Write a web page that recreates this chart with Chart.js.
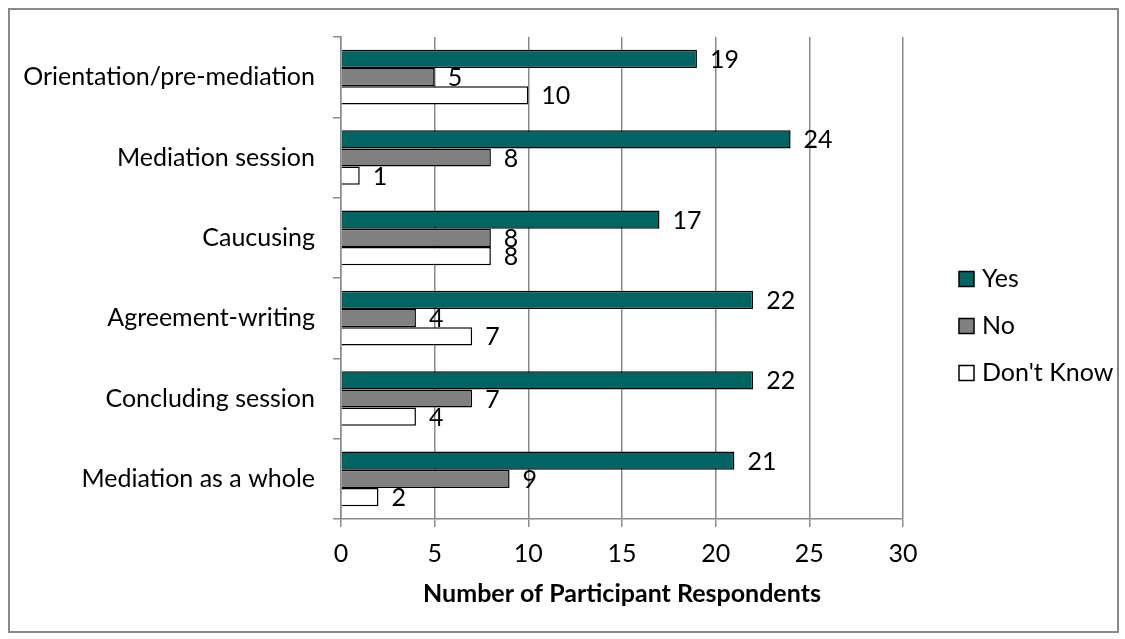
<!DOCTYPE html>
<html>
<head>
<meta charset="utf-8">
<script src="https://cdn.jsdelivr.net/npm/chart.js@4/dist/chart.umd.min.js"></script>
<style>
  body { margin: 0; background: #fff; }
  #frame { position: absolute; left: 8px; top: 8px; width: 1107px; height: 621px; border: 2px solid #898989; }
  #grafico { position: absolute; left: 0; top: 0; }
</style>
</head>
<body>
<div id="frame"></div>
<canvas id="grafico" width="1125" height="639"></canvas>
<script>
const categorias = ['Orientation/pre-mediation', 'Mediation session', 'Caucusing', 'Agreement-writing', 'Concluding session', 'Mediation as a whole'];
const valoresYes = [19, 24, 17, 22, 22, 21];
const valoresNo = [5, 8, 8, 4, 7, 9];
const valoresDontKnow = [10, 1, 8, 7, 4, 2];
const rotulosSeries = ['Yes', 'No', "Don't Know"];
const eixoX = { min: 0, max: 30, passo: 5 };

const fonte = 'Lato, "Open Sans", sans-serif';
const tamanho = 25;
Chart.defaults.font.family = fonte;
Chart.defaults.color = '#000';

// rotulos de valor no fim de cada barra
const rotulosValor = {
  id: 'rotulosValor',
  afterDatasetsDraw(chart) {
    const ctx = chart.ctx;
    ctx.save();
    ctx.font = tamanho + 'px ' + fonte;
    ctx.fillStyle = '#000';
    ctx.textAlign = 'left';
    ctx.textBaseline = 'middle';
    chart.data.datasets.forEach((ds, i) => {
      chart.getDatasetMeta(i).data.forEach((barra, j) => {
        ctx.fillText(String(ds.data[j]), barra.x + 13, barra.y + 1);
      });
    });
    ctx.restore();
  }
};

// legenda a direita, como no Excel
const legendaLateral = {
  id: 'legendaLateral',
  afterDraw(chart) {
    const ctx = chart.ctx;
    const x = chart.chartArea.right + 56;
    const yCentro = 326;
    const espaco = 47;
    ctx.save();
    ctx.font = tamanho + 'px ' + fonte;
    ctx.textBaseline = 'middle';
    ctx.textAlign = 'left';
    chart.data.datasets.forEach((ds, i) => {
      const y = yCentro + (i - 1) * espaco;
      ctx.fillStyle = ds.backgroundColor;
      ctx.fillRect(x, y - 7.5, 15, 15);
      ctx.lineWidth = 1.5;
      ctx.strokeStyle = '#000';
      ctx.strokeRect(x, y - 7.5, 15, 15);
      ctx.fillStyle = '#000';
      ctx.fillText(ds.label, x + 23, y);
    });
    ctx.restore();
  }
};

const painel = document.getElementById('grafico');
const cores = ['#006462', '#808080', '#ffffff'];
const series = [valoresYes, valoresNo, valoresDontKnow];

new Chart(painel.getContext('2d'), {
  type: 'bar',
  data: {
    labels: categorias,
    datasets: series.map((valores, i) => ({
      label: rotulosSeries[i],
      data: valores,
      backgroundColor: cores[i],
      borderColor: '#000',
      borderWidth: 1.5,
      barPercentage: 1,
      categoryPercentage: 0.68
    }))
  },
  options: {
    indexAxis: 'y',
    responsive: false,
    animation: false,
    devicePixelRatio: 1,
    layout: { padding: { top: 37, right: 222, left: 0, bottom: 30 } },
    plugins: {
      legend: { display: false },
      tooltip: { enabled: false }
    },
    scales: {
      x: {
        min: eixoX.min,
        max: eixoX.max,
        afterFit: escala => { escala.height = 90; },
        ticks: { stepSize: eixoX.passo, font: { size: tamanho }, color: '#000', padding: 12 },
        grid: { color: '#8a8a8a', lineWidth: 1.5, tickLength: 8 },
        border: { color: '#8a8a8a', width: 1.5 },
        title: {
          display: true,
          text: 'Number of Participant Respondents',
          font: { size: tamanho, weight: 'bold' },
          color: '#000',
          padding: { top: 6, bottom: 0 }
        }
      },
      y: {
        afterFit: escala => { escala.width = 341; },
        ticks: { font: { size: tamanho }, color: '#000', padding: 18 },
        grid: { drawOnChartArea: false, color: '#8a8a8a', lineWidth: 1.5, tickLength: 8 },
        border: { color: '#8a8a8a', width: 1.5 }
      }
    }
  },
  plugins: [rotulosValor, legendaLateral]
});
</script>
</body>
</html>
